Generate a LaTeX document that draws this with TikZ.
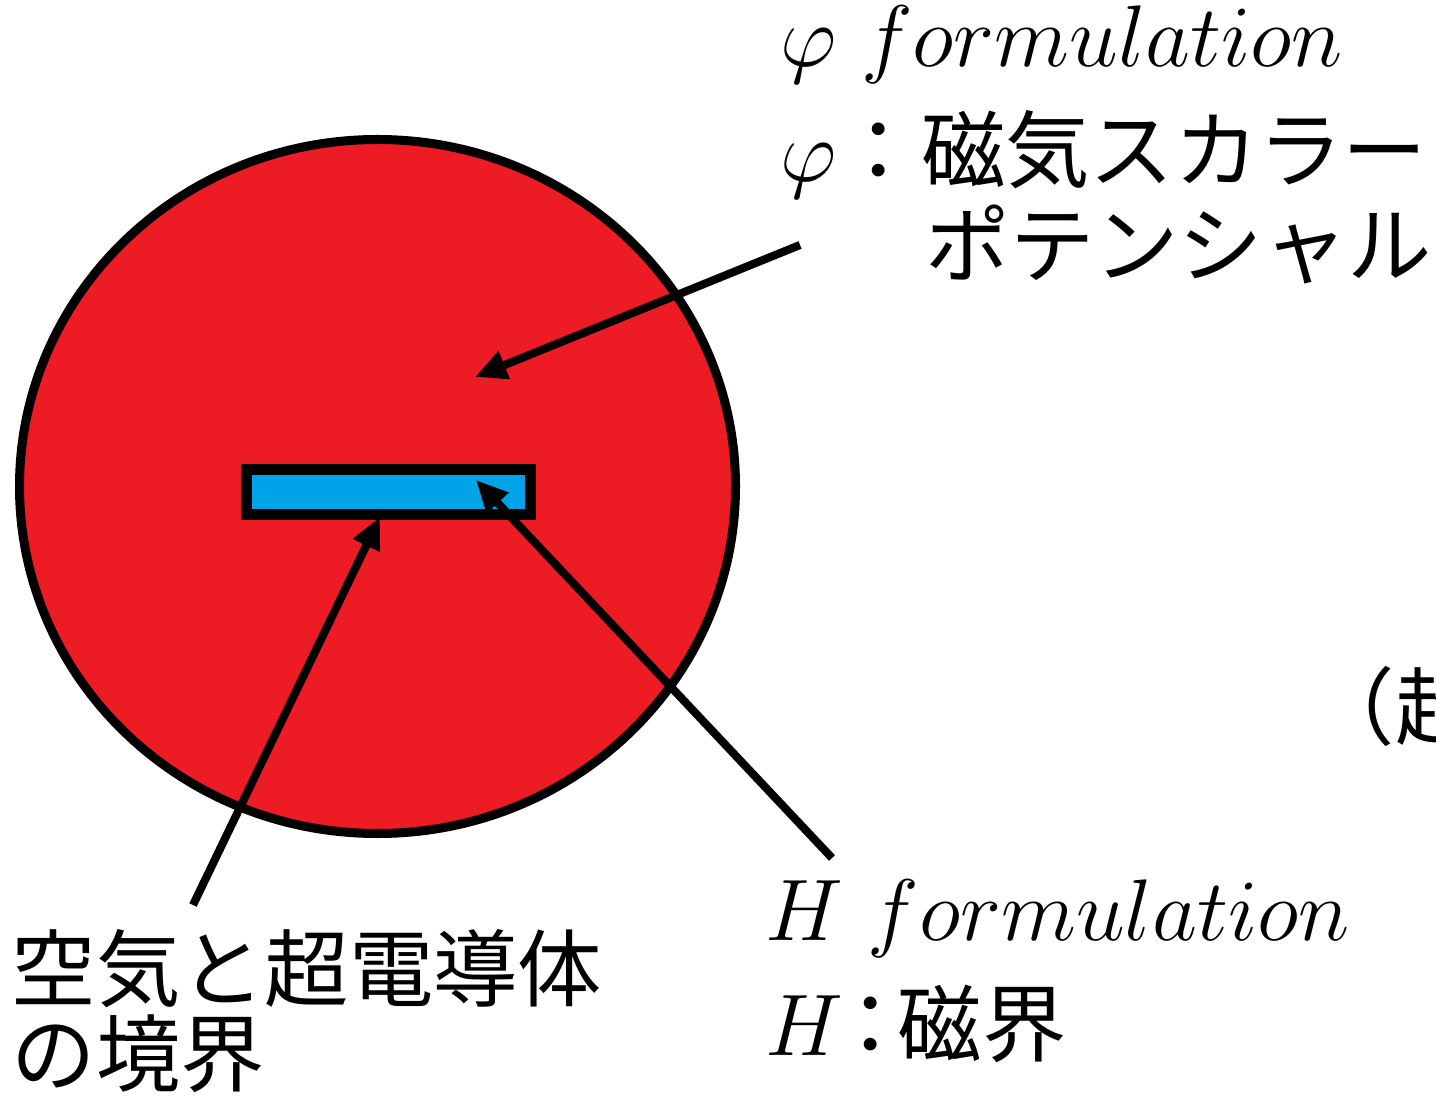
\documentclass[tikz,border=0pt]{standalone}
\usepackage{fontspec}
\newfontfamily\jpfont{Noto Sans CJK JP}
\usetikzlibrary{arrows.meta}
\definecolor{rojo}{HTML}{ED1C24}
\definecolor{celeste}{HTML}{00A2E8}

\begin{document}
\begin{tikzpicture}[>={Triangle[length=9pt,width=8pt]},
  flecha/.style={line width=2.3pt,->},
  etiqueta/.style={anchor=base west,inner sep=0pt,font=\fontsize{23}{27}\selectfont},
  japones/.style={etiqueta,font=\fontsize{24}{28}\selectfont\jpfont}]
  \useasboundingbox (0,0) rectangle (14.36,10.97);
  \clip (0,0) rectangle (14.36,10.97);
  \filldraw[fill=rojo,draw=black,line width=0.09cm] (3.775,6.105) ellipse (3.58 and 3.47);
  \node[draw,fill=celeste,line width=0.11cm,minimum width=2.84cm,minimum height=0.45cm,
    inner sep=0pt] (barra) at (3.885,6.05) {};
  \node[etiqueta] (phiForm) at (7.8,10.30) {$\varphi\ formulation$};
  \node[japones] (phiDef) at (7.8,9.15) {\fontsize{23}{27}\selectfont$\varphi$\fontsize{24}{28}\selectfont ：磁気スカラー};
  \node[japones] (phiDefB) at (9.25,8.20) {ポテンシャル};
  \node[etiqueta] (hForm) at (7.65,1.57) {$H\ formulation$};
  \node[japones] (hDef) at (7.65,0.42) {\fontsize{23}{27}\selectfont$H$\kern-0.15cm\fontsize{24}{28}\selectfont ：\kern-0.15cm 磁界};
  \node[japones] (borde) at (0.11,0.97) {空気と超電導体};
  \node[japones] (bordeB) at (0.11,0.12) {の境界};
  \node[japones] (corte) at (13.1,3.59) {（超};
  \coordinate (colaPhi) at (8.00,8.52);
  \coordinate (puntaPhi) at (4.75,7.20);
  \coordinate (colaBorde) at (1.93,1.92);
  \coordinate (puntaBorde) at (3.80,5.80);
  \coordinate (colaH) at (8.32,2.39);
  \coordinate (puntaH) at (4.76,6.17);
  \draw[flecha] (colaPhi) -- (puntaPhi);
  \draw[flecha] (colaBorde) -- (puntaBorde);
  \draw[flecha] (colaH) -- (puntaH);
\end{tikzpicture}
\end{document}
